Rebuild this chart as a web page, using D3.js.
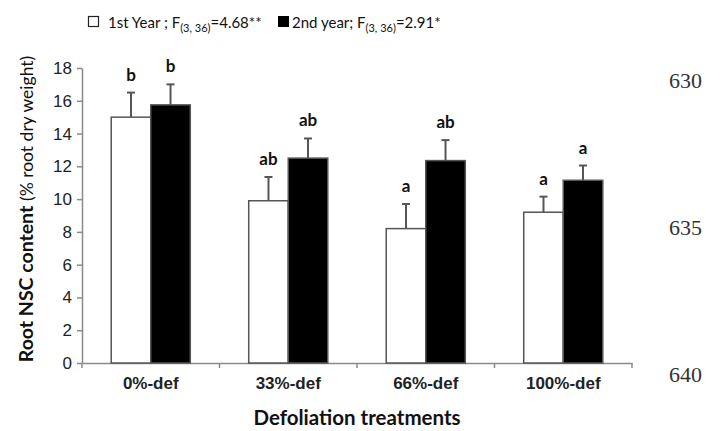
<!DOCTYPE html>
<html>
<head>
<meta charset="utf-8">
<style>
    body { margin: 0; background: #fff; }
    svg { display: block; font-family: Lato, 'Open Sans', sans-serif; }
    .axis .domain { stroke: #8a8a8a; stroke-width: 1.5px; }
    .axis .tick line { stroke: #8a8a8a; stroke-width: 1.5px; }
    .y.axis .tick text { font-size: 17px; fill: #222; }
    .x.axis .tick text { font-size: 17px; font-weight: bold; fill: #222; }
    .sig { font-size: 17px; font-weight: bold; fill: #111; }
    .legend { font-size: 15px; fill: #111; }
    .lineno { font-family: 'Liberation Serif', serif; font-size: 22px; fill: #333; }
</style>
</head>
<body>
<svg width="722" height="431"></svg>

<script src="https://d3js.org/d3.v7.min.js"></script>
<script>
    // values
    let treatments = ["0%-def", "33%-def", "66%-def", "100%-def"]
    let years = ["1st", "2nd"]
    let year1 = [15.0, 9.9, 8.2, 9.2]
    let year1Err = [1.5, 1.45, 1.5, 0.95]
    let year2 = [15.75, 12.5, 12.35, 11.15]
    let year2Err = [1.25, 1.2, 1.25, 0.9]
    let year1Letters = ["b", "ab", "a", "a"]
    let year2Letters = ["b", "ab", "ab", "a"]
    let yTicks = [0, 2, 4, 6, 8, 10, 12, 14, 16, 18]
    let lineNumbers = ["630", "635", "640"]

    let svg = d3.select("svg")
    let margin = { top: 68, right: 90, bottom: 68, left: 82 }
    let width = 722, height = 431

    let x0 = d3.scaleBand()
        .domain(treatments)
        .range([margin.left, width - margin.right])
        .paddingInner(0.425)
        .paddingOuter(0.2125)

    let x1 = d3.scaleBand()
        .domain(years)
        .range([0, x0.bandwidth()])

    let y = d3.scaleLinear()
        .domain([0, 18])
        .range([height - margin.bottom, margin.top])

    let data = treatments.map((t, i) => ({
        treatment: t,
        bars: [
            { year: "1st", value: year1[i], err: year1Err[i], letter: year1Letters[i] },
            { year: "2nd", value: year2[i], err: year2Err[i], letter: year2Letters[i] }
        ]
    }))

    // y axis
    svg.append("g")
        .attr("class", "y axis")
        .attr("transform", `translate(${margin.left},0)`)
        .call(d3.axisLeft(y).tickValues(yTicks).tickSize(5).tickPadding(5).tickSizeOuter(0))

    // x axis, labels centered, ticks at group boundaries
    let xAxis = svg.append("g")
        .attr("class", "x axis")
        .attr("transform", `translate(0,${y(0)})`)
        .call(d3.axisBottom(x0).tickSize(0).tickPadding(14).tickSizeOuter(0))

    let bounds = d3.range(treatments.length + 1).map(i => margin.left + i * x0.step())
    xAxis.selectAll(".bound")
        .data(bounds)
        .join("line")
        .attr("class", "bound")
        .attr("x1", d => d).attr("x2", d => d)
        .attr("y1", 0).attr("y2", 5)
        .attr("stroke", "#8a8a8a")
        .attr("stroke-width", 1.5)

    let groups = svg.append("g")
        .selectAll("g")
        .data(data)
        .join("g")
        .attr("transform", d => `translate(${x0(d.treatment)},0)`)

    // error bars (upper only)
    groups.selectAll(".err")
        .data(d => d.bars)
        .join("line")
        .attr("class", "err")
        .attr("x1", d => x1(d.year) + x1.bandwidth() / 2)
        .attr("x2", d => x1(d.year) + x1.bandwidth() / 2)
        .attr("y1", d => y(d.value))
        .attr("y2", d => y(d.value + d.err))
        .attr("stroke", "#555")
        .attr("stroke-width", 2)

    groups.selectAll(".cap")
        .data(d => d.bars)
        .join("line")
        .attr("class", "cap")
        .attr("x1", d => x1(d.year) + x1.bandwidth() / 2 - 4)
        .attr("x2", d => x1(d.year) + x1.bandwidth() / 2 + 4)
        .attr("y1", d => y(d.value + d.err))
        .attr("y2", d => y(d.value + d.err))
        .attr("stroke", "#555")
        .attr("stroke-width", 2)

    groups.selectAll("rect")
        .data(d => d.bars)
        .join("rect")
        .attr("x", d => x1(d.year))
        .attr("y", d => y(d.value))
        .attr("width", x1.bandwidth())
        .attr("height", d => y(0) - y(d.value))
        .attr("fill", d => d.year == "1st" ? "#fff" : "#000")
        .attr("stroke", "#555")
        .attr("stroke-width", 1.5)

    groups.selectAll(".sig")
        .data(d => d.bars)
        .join("text")
        .attr("class", "sig")
        .attr("x", d => x1(d.year) + x1.bandwidth() / 2)
        .attr("y", d => y(d.value + d.err) - 12)
        .attr("text-anchor", "middle")
        .text(d => d.letter)

    // axis titles
    let yTitle = svg.append("text")
        .attr("transform", `translate(33,209) rotate(-90)`)
        .attr("text-anchor", "middle")
        .style("font-size", "19.5px")
        .style("fill", "#111")
    yTitle.append("tspan").style("font-weight", "bold").text("Root NSC content ")
    yTitle.append("tspan").style("font-size", "17.5px").text("(% root dry weight)")

    svg.append("text")
        .attr("x", (margin.left + width - margin.right) / 2)
        .attr("y", 425)
        .attr("text-anchor", "middle")
        .style("font-size", "20.5px")
        .style("font-weight", "bold")
        .style("fill", "#111")
        .text("Defoliation treatments")

    // legend
    let legend = svg.append("g").attr("class", "legend")
    legend.append("rect")
        .attr("x", 88.5).attr("y", 16.5).attr("width", 10).attr("height", 10)
        .attr("fill", "#fff").attr("stroke", "#222").attr("stroke-width", 1.2)
    let l1 = legend.append("text").attr("x", 108).attr("y", 28)
    l1.append("tspan").text("1st Year ; F")
    l1.append("tspan").attr("dy", 4).style("font-size", "11px").text("(3, 36)")
    l1.append("tspan").attr("dy", -4).text("=4.68**")

    legend.append("rect")
        .attr("x", 278).attr("y", 16).attr("width", 11).attr("height", 11)
        .attr("fill", "#000")
    let l2 = legend.append("text").attr("x", 292).attr("y", 28)
    l2.append("tspan").text("2nd year; F")
    l2.append("tspan").attr("dy", 4).style("font-size", "11px").text("(3, 36)")
    l2.append("tspan").attr("dy", -4).text("=2.91*")

    // line numbers of the source page
    svg.selectAll(".lineno")
        .data(lineNumbers)
        .join("text")
        .attr("class", "lineno")
        .attr("x", 669)
        .attr("y", (d, i) => 88 + i * 147)
        .text(d => d)
</script>
</body>
</html>
